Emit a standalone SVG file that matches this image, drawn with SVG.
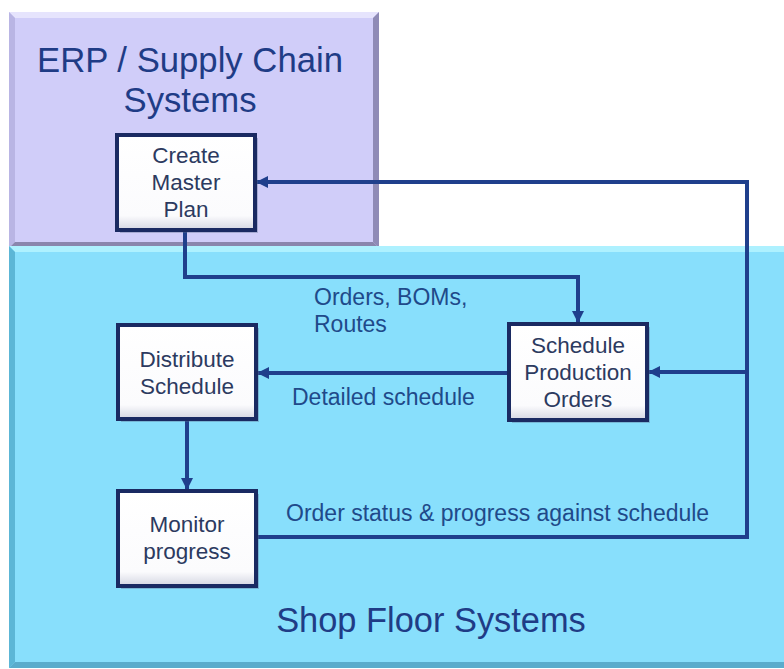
<svg xmlns="http://www.w3.org/2000/svg" width="784" height="669" viewBox="0 0 784 669">
<defs>
<style>
.title{font-family:"Liberation Sans",Arial,sans-serif;font-size:34.7px;fill:#1f3c86;text-anchor:middle}
.title2{font-family:"Liberation Sans",Arial,sans-serif;font-size:34.4px;fill:#1f3c86;text-anchor:middle}
.ntext{font-family:"Liberation Sans",Arial,sans-serif;font-size:22.5px;fill:#2c3a60;text-anchor:middle}
.lbl{font-family:"Liberation Sans",Arial,sans-serif;font-size:23px;fill:#1f4a8a}
.box{fill:url(#nodeGrad);stroke:#1a2a62;stroke-width:4}
.shadow{fill:#5a6a8a;opacity:0.35}
.conn{fill:none;stroke:#1f3f8c;stroke-width:4;stroke-linejoin:miter}
</style>
<linearGradient id="nodeGrad" x1="0" y1="0" x2="0" y2="1">
<stop offset="0" stop-color="#ffffff"/>
<stop offset="0.85" stop-color="#fbfbfd"/>
<stop offset="1" stop-color="#d4d6e2"/>
</linearGradient>
<marker id="arr" markerUnits="userSpaceOnUse" markerWidth="12" markerHeight="12" refX="11" refY="6" orient="auto">
<path d="M0,0 L12,6 L0,12 z" fill="#1f3f8c"/>
</marker>
</defs>
<rect width="784" height="669" fill="#ffffff"/>
<g id="erp-region">
<rect x="9" y="12" width="370" height="236" fill="#d0cdf9"/>
<polygon points="9,12 379,12 373,18 15,18" fill="#e6e4fd"/>
<polygon points="9,12 15,18 15,242 9,248" fill="#b9b5e4"/>
<polygon points="379,12 379,248 373,242 373,18" fill="#8f8bb6"/>
<polygon points="9,248 379,248 373,242 15,242" fill="#8a86ad"/>
<text class="title" x="190" y="72">ERP / Supply Chain</text>
<text class="title" x="190" y="112">Systems</text>
</g>
<g id="shop-floor-region">
<rect x="9" y="246" width="790" height="422" fill="#88dffc"/>
<polygon points="9,246 790,246 790,252 15,252" fill="#aef1ff"/>
<polygon points="9,246 15,252 15,662 9,668" fill="#5cb6d6"/>
<polygon points="9,668 790,668 790,662 15,662" fill="#5aaccc"/>
<text class="title2" x="431" y="632">Shop Floor Systems</text>
</g>
<g id="connectors">
<polyline class="conn" points="185,232 185,277 578,277 578,322" marker-end="url(#arr)"/>
<line class="conn" x1="507" y1="373" x2="258" y2="373" marker-end="url(#arr)"/>
<line class="conn" x1="187" y1="421" x2="187" y2="489" marker-end="url(#arr)"/>
<polyline class="conn" points="258,537 747,537 747,182 257,182" marker-end="url(#arr)"/>
<line class="conn" x1="747" y1="372" x2="649" y2="372" marker-end="url(#arr)"/>
<text class="lbl" x="314" y="305">Orders, BOMs,</text>
<text class="lbl" x="314" y="332">Routes</text>
<text class="lbl" x="292" y="405">Detailed schedule</text>
<text class="lbl" x="286" y="521">Order status &amp; progress against schedule</text>
</g>
<g id="create-master-plan">
<rect class="shadow" x="120" y="138" width="138" height="95"/>
<rect class="box" x="117" y="135" width="138" height="95"/>
<text class="ntext" x="186" y="163">Create</text>
<text class="ntext" x="186" y="190">Master</text>
<text class="ntext" x="186" y="217">Plan</text>
</g>
<g id="distribute-schedule">
<rect class="shadow" x="121" y="328" width="138" height="94"/>
<rect class="box" x="118" y="325" width="138" height="94"/>
<text class="ntext" x="187" y="367">Distribute</text>
<text class="ntext" x="187" y="394">Schedule</text>
</g>
<g id="schedule-production-orders">
<rect class="shadow" x="512" y="327" width="138" height="96"/>
<rect class="box" x="509" y="324" width="138" height="96"/>
<text class="ntext" x="578" y="353">Schedule</text>
<text class="ntext" x="578" y="380">Production</text>
<text class="ntext" x="578" y="407">Orders</text>
</g>
<g id="monitor-progress">
<rect class="shadow" x="121" y="494" width="138" height="95"/>
<rect class="box" x="118" y="491" width="138" height="95"/>
<text class="ntext" x="187" y="532">Monitor</text>
<text class="ntext" x="187" y="559">progress</text>
</g>
</svg>
